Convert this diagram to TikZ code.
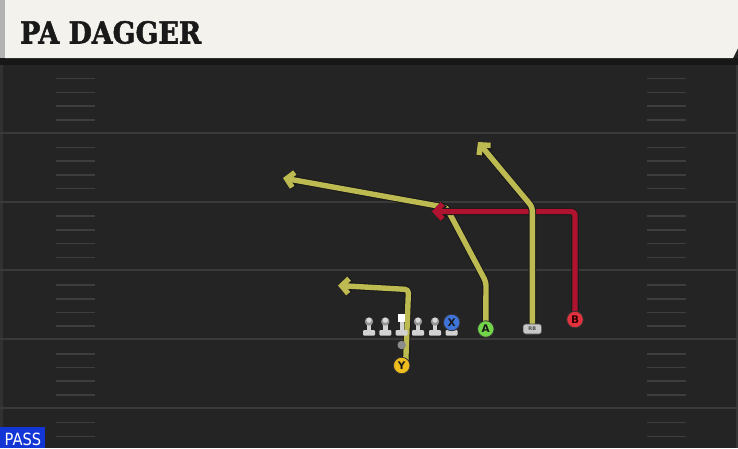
\documentclass[tikz,border=0pt]{standalone}
\usepackage{fontspec}
\usepackage{graphicx}
\setmainfont{DejaVu Sans}
\newfontfamily\titlefont{DejaVu Serif}[FakeBold=1.8]
\usetikzlibrary{arrows.meta}
\definecolor{fieldbg}{HTML}{242424}
\definecolor{titlebg}{HTML}{F4F2EC}
\definecolor{yardc}{HTML}{3A3A3A}
\definecolor{hashc}{HTML}{3E3E3E}
\definecolor{routey}{HTML}{BDBA52}
\definecolor{router}{HTML}{B0132F}
\definecolor{lmbody}{HTML}{D2D2D2}
\definecolor{lmhead}{HTML}{959595}
\definecolor{xblue}{HTML}{3E73D9}
\definecolor{agreen}{HTML}{72D449}
\definecolor{bred}{HTML}{E3323F}
\definecolor{yyel}{HTML}{EDBD1E}
\definecolor{passblue}{HTML}{1236D6}
\newcommand\lman[2]{%
  \fill[lmbody, rounded corners=1pt] (#2-6,330) rectangle (#2+6,335.5);
  \fill[lmbody] (#2-2.2,323) rectangle (#2+2.2,331);
  \fill[lmhead] (#2,321.5) circle (4.2);
  \fill[lmbody!85] (#2,320.2) circle (2.6);
  \node[inner sep=0, minimum width=12pt, minimum height=17pt] (#1) at (#2,326.5) {};
}
\tikzset{
  yard/.style={draw=yardc, line width=2pt},
  hashm/.style={draw=hashc, line width=1.6pt},
  route/.style={line width=5.4pt, line join=round, rounded corners=3.5pt,
    -{Straight Barb[length=7pt,width=15pt]},
    preaction={draw=black!90, line width=7.4pt, line join=round, rounded corners=3.5pt,
      -{Straight Barb[length=7pt,width=15pt]}}},
  player/.style={circle, minimum size=16.5pt, inner sep=0, draw=black!80, line width=0.8pt,
    font=\bfseries\fontsize{10.5}{10.5}\selectfont, text=black!90},
}
\begin{document}
\begin{tikzpicture}[x=1pt,y=-1pt]
\useasboundingbox (0,0) rectangle (738,448);
% field
\fill[fieldbg] (0,0) rectangle (738,448);
\fill[black!35!fieldbg] (0,58) rectangle (738,65);
\fill[white!6!fieldbg] (0,65) rectangle (3,448);
\fill[white!8!fieldbg] (735.5,65) rectangle (738,448);
% title bar
\fill[titlebg] (5,0) -- (738,0) -- (738,48) -- (733,58) -- (5,58) -- cycle;
\fill[black!30] (0,0) rectangle (5,58);
\node[anchor=base west, inner sep=0, text=black!90] (title) at (20,43.5)
  {\resizebox{181pt}{22.5pt}{\titlefont\bfseries PA DAGGER}};
% yard lines
\foreach \yy in {132.8,201.6,270.4,339.2,408} \draw[yard] (0,\yy) -- (738,\yy);
% hash marks
\foreach \j in {1,...,28}{
  \pgfmathtruncatemacro\r{mod(\j,5)}
  \ifnum\r=0\relax\else
    \pgfmathsetmacro\hy{64.8+13.76*\j}
    \draw[hashm] (56,\hy) -- (95,\hy);
    \draw[hashm] (647,\hy) -- (686,\hy);
  \fi
}
% positions
\coordinate (Ypos) at (401.7,365.5);
\coordinate (Apos) at (485.8,329);
\coordinate (RBpos) at (532.3,329);
\coordinate (Bpos) at (575,319.5);
\coordinate (Xpos) at (451.7,322.5);
\coordinate (ys) at (405.8,360);
\coordinate (yc) at (408.5,289.5);
\coordinate (ye) at (338,285.5);
\coordinate (ac1) at (486,282);
\coordinate (ac2) at (446.5,207.5);
\coordinate (ae) at (283,178);
\coordinate (rbc) at (532.3,207);
\coordinate (rbe) at (478,142);
\coordinate (bc) at (575,211.5);
\coordinate (be) at (432,211.5);
% routes
\draw[route, routey] (Apos) -- (ac1) -- (ac2) -- (ae);
\draw[route, router] (Bpos) -- (bc) -- (be);
\draw[route, routey] (RBpos) -- (rbc) -- (rbe);
\draw[route, routey] (ys) -- (yc) -- (ye);
% linemen
\lman{LT}{369}
\lman{LG}{385.3}
\lman{RG}{418}
\lman{RT}{435}
% center
\fill[lmbody, rounded corners=1pt] (395.7,330) rectangle (407.7,335.5);
\fill[lmbody] (399.5,321) rectangle (403.9,331);
\node[fill=white, minimum size=7.5pt, inner sep=0] (C) at (401.7,317.8) {};
% X stand
\fill[lmbody, rounded corners=1pt] (445.7,330) rectangle (457.7,335.5);
\fill[lmbody] (449.5,326) rectangle (453.9,331);
% QB dot
\node[circle, fill=black!45, minimum size=8.5pt, inner sep=0] (QB) at (401.7,345) {};
% players
\node[player, fill=xblue] (X) at (Xpos) {X};
\node[player, fill=agreen] (A) at (Apos) {A};
\node[player, fill=bred, text=black!80!red] (B) at (Bpos) {B};
\node[player, fill=yyel] (Y) at (Ypos) {Y};
\node[draw=black!70, line width=0.6pt, fill=black!22, rounded corners=2.5pt, minimum width=18.5pt, minimum height=10pt, inner sep=0,
  font=\bfseries\fontsize{5}{5}\selectfont, text=black!70] (RB) at (RBpos) {RB};
% pass tag
\fill[passblue] (0,427) rectangle (45,448);
\node[anchor=base west, inner sep=0, text=white] (pass) at (4.5,445)
  {\resizebox{36.5pt}{12.5pt}{PASS}};
\end{tikzpicture}
\end{document}
